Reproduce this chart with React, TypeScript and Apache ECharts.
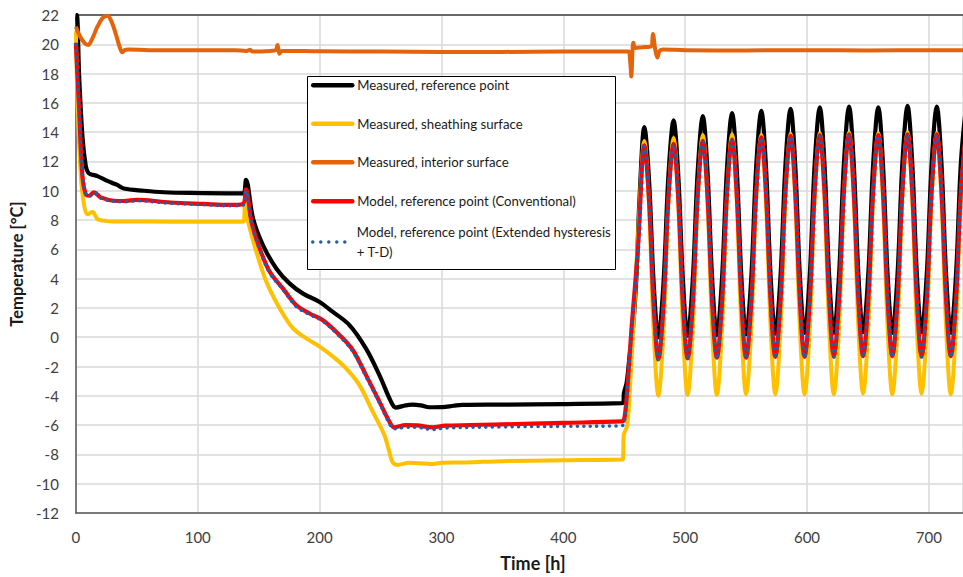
import React, { useEffect, useRef } from "react";
import * as echarts from "echarts";

const seriesNames = [
  "Measured, reference point",
  "Measured, sheathing surface",
  "Measured, interior surface",
  "Model, reference point (Conventional)",
  "Model, reference point (Extended hysteresis + T-D)",
];

const xTickStep = 100;
const yTickStep = 2;
const xRange = [0, 728];
const yRange = [-12, 22];

// ---- data before the daily cycles: [time h, temperature °C]
const blackEarly: [number, number][] = [
  [0, 22.0], [0.8, 22.0], [2.7, 17.8], [5.4, 13.7], [8.1, 11.7], [10, 11.25], [12.2, 11.13],
  [17.7, 11.0], [25.8, 10.68], [31, 10.5], [34, 10.4], [39.5, 10.15], [56, 10.0], [72, 9.9],
  [94, 9.85], [132, 9.82], [137.5, 9.82], [139.6, 10.75], [145.5, 8.07], [153.7, 6.26],
  [164.6, 4.68], [175.5, 3.66], [186.4, 2.98], [200, 2.41], [210.9, 1.73], [224.5, 0.83],
  [238, -0.76], [249, -2.57], [258.5, -4.38], [262.5, -4.8], [270.7, -4.65], [276, -4.6],
  [283, -4.65], [290, -4.78], [300.6, -4.77], [310, -4.68], [317, -4.62], [350, -4.6],
  [400, -4.56], [448, -4.5], [449.3, -4.45], [449.8, -3.8], [452, -3.1], [454.5, -1.2],
  [457, 0.4], [459.8, 3.8], [462.5, 9.4],
];

const yellowEarly: [number, number][] = [
  [0, 20.9], [1.6, 15.5], [4.1, 11.0], [6.8, 9.0], [9.5, 8.4], [13.6, 8.55], [17.7, 8.07],
  [23, 7.96], [30, 7.9], [60, 7.9], [100, 7.88], [137.5, 7.9], [138.8, 9.2], [141.5, 7.85],
  [148.2, 5.81], [156.4, 3.77], [167.3, 1.96], [178.2, 0.6], [189.1, -0.08], [200, -0.64],
  [210.9, -1.32], [221.7, -2.12], [232.6, -3.25], [243.5, -5.06], [253, -6.65], [257.1, -7.78],
  [259.8, -8.52], [263.9, -8.72], [273.5, -8.57], [282, -8.6], [291, -8.66], [300.6, -8.57],
  [320, -8.55], [350, -8.46], [400, -8.4], [448, -8.35], [449, -8.3], [449.6, -6.7],
  [452.5, -6.0], [455, -3.0], [458, 1.5], [462, 8.0],
];

const orangeData: [number, number][] = [
  [0, 21.2], [3, 20.6], [7, 20.1], [10, 19.95], [13, 20.3], [17.7, 21.2], [22, 21.8],
  [25.8, 21.95], [29, 21.6], [32.6, 20.75], [36, 19.8], [38, 19.45], [40, 19.6], [43, 19.65],
  [60, 19.6], [100, 19.6], [130, 19.6], [140, 19.55], [143, 19.62], [145, 19.5], [160, 19.55],
  [164, 19.6], [165.5, 19.95], [167, 19.35], [169, 19.55], [200, 19.52], [250, 19.5],
  [300, 19.48], [350, 19.48], [400, 19.5], [450, 19.5], [453.5, 19.5], [455, 18.7],
  [455.8, 17.8], [456.8, 19.6], [457.5, 20.1], [459, 19.75], [465, 19.8], [472, 19.85],
  [473.5, 20.7], [475.5, 19.6], [477.2, 19.1], [479, 19.55], [482, 19.65], [500, 19.6],
  [550, 19.58], [600, 19.6], [650, 19.58], [700, 19.6], [730, 19.6],
];

const redEarly: [number, number][] = [
  [0, 20.1], [2.7, 15.5], [5.4, 11.0], [8.1, 9.77], [10.9, 9.66], [14.9, 9.89], [20.4, 9.55],
  [31.3, 9.32], [39.4, 9.3], [50, 9.38], [77.5, 9.2], [104.7, 9.1], [126.4, 9.03], [137, 9.1],
  [139.6, 10.1], [144.2, 7.85], [151, 6.03], [159.2, 4.45], [170, 3.32], [180.9, 2.18],
  [191.8, 1.62], [202.7, 1.16], [216.3, 0.15], [227.2, -0.87], [238, -2.57], [249, -4.38],
  [257.1, -5.74], [261.2, -6.15], [270.7, -6.0], [280, -6.02], [292.5, -6.15], [303, -6.04],
  [350, -5.95], [400, -5.85], [447.6, -5.75], [449.5, -5.7], [451, -5.0], [453, -3.0],
  [455.8, 0.4], [461.2, 6.0],
];

const blueEarly: [number, number][] = [
  [0, 20.0], [2.7, 15.4], [5.4, 11.0], [8.1, 9.75], [10.9, 9.62], [14.9, 9.85], [20.4, 9.5],
  [31.3, 9.28], [39.4, 9.25], [50, 9.32], [77.5, 9.15], [104.7, 9.05], [126.4, 8.98], [137, 9.02],
  [139.6, 10.0], [144.2, 7.75], [151, 5.95], [159.2, 4.38], [170, 3.25], [180.9, 2.1],
  [191.8, 1.55], [202.7, 1.1], [216.3, 0.08], [227.2, -0.95], [238, -2.65], [249, -4.45],
  [257.1, -5.85], [261.2, -6.25], [270.7, -6.15], [280, -6.15], [292.5, -6.3], [303, -6.2],
  [350, -6.12], [400, -6.08], [447.6, -6.05], [449.5, -5.95], [451, -5.1], [453, -3.1],
  [455.8, 0.3], [461.2, 5.9],
];

// ---- daily cycles (shared time stamps)
const oscTime = [
  466.5, 470.3, 474.2, 478, 482.2, 486.3,
  490.5, 494.3, 498.2, 502, 506.2, 510.3,
  514.5, 518.3, 522.2, 526, 530.2, 534.3,
  538.5, 542.3, 546.2, 550, 554.2, 558.3,
  562.5, 566.3, 570.2, 574, 578.2, 582.3,
  586.5, 590.3, 594.2, 598, 602.2, 606.3,
  610.5, 614.3, 618.2, 622, 626.2, 630.3,
  634.5, 638.3, 642.2, 646, 650.2, 654.3,
  658.5, 662.3, 666.2, 670, 674.2, 678.3,
  682.5, 686.3, 690.2, 694, 698.2, 702.3,
  706.5, 710.3, 714.2, 718, 722.2, 726.3,
  730.5,
];

const blackOsc = [
  14.35, 10.8, 3.6, 0.0, 3.7, 11.1,
  14.8, 11.1, 3.8, 0.1, 3.85, 11.35,
  15.1, 11.35, 3.9, 0.15, 3.95, 11.5,
  15.3, 11.55, 4.0, 0.2, 4.0, 11.65,
  15.45, 11.65, 4.05, 0.25, 4.1, 11.75,
  15.6, 11.8, 4.1, 0.3, 4.15, 11.85,
  15.7, 11.85, 4.15, 0.3, 4.15, 11.9,
  15.75, 11.9, 4.2, 0.35, 4.2, 11.85,
  15.7, 11.85, 4.15, 0.3, 4.2, 11.95,
  15.8, 11.95, 4.2, 0.35, 4.2, 11.9,
  15.75, 11.9, 4.15, 0.3, 4.2, 11.95,
  15.8,
];

const yellowOsc = [
  13.4, 9.05, 0.35, -4.0, 0.4, 9.2,
  13.6, 9.2, 0.45, -3.95, 0.5, 9.35,
  13.8, 9.35, 0.5, -3.95, 0.5, 9.4,
  13.85, 9.4, 0.55, -3.9, 0.55, 9.4,
  13.8, 9.4, 0.55, -3.9, 0.55, 9.45,
  13.9, 9.45, 0.55, -3.9, 0.55, 9.5,
  13.95, 9.5, 0.55, -3.9, 0.6, 9.55,
  14.0, 9.55, 0.6, -3.85, 0.6, 9.5,
  13.95, 9.5, 0.55, -3.9, 0.6, 9.55,
  14.0, 9.55, 0.6, -3.85, 0.6, 9.5,
  13.95, 9.5, 0.55, -3.9, 0.6, 9.55,
  14.0,
];

const redOsc = [
  13.1, 9.45, 2.15, -1.5, 2.2, 9.55,
  13.2, 9.55, 2.2, -1.45, 2.25, 9.7,
  13.4, 9.7, 2.3, -1.4, 2.35, 9.8,
  13.5, 9.8, 2.35, -1.4, 2.35, 9.9,
  13.65, 9.9, 2.4, -1.35, 2.45, 10.0,
  13.75, 10.0, 2.45, -1.35, 2.45, 10.0,
  13.8, 10.05, 2.5, -1.3, 2.5, 10.05,
  13.85, 10.05, 2.5, -1.3, 2.5, 10.05,
  13.8, 10.05, 2.5, -1.3, 2.5, 10.05,
  13.85, 10.05, 2.5, -1.3, 2.5, 10.05,
  13.85, 10.05, 2.5, -1.3, 2.5, 10.05,
  13.85,
];

const blueOsc = [
  13.05, 9.4, 2.1, -1.55, 2.15, 9.5,
  13.15, 9.5, 2.15, -1.5, 2.2, 9.65,
  13.35, 9.65, 2.25, -1.45, 2.3, 9.75,
  13.45, 9.75, 2.3, -1.45, 2.3, 9.85,
  13.6, 9.85, 2.35, -1.4, 2.4, 9.95,
  13.7, 9.95, 2.4, -1.4, 2.4, 9.95,
  13.75, 10.0, 2.45, -1.35, 2.45, 10.0,
  13.8, 10.0, 2.45, -1.35, 2.45, 10.0,
  13.75, 10.0, 2.45, -1.35, 2.45, 10.0,
  13.8, 10.0, 2.45, -1.35, 2.45, 10.0,
  13.8, 10.0, 2.45, -1.35, 2.45, 10.0,
  13.8,
];

const withCycles = (early: [number, number][], osc: number[]) =>
  early.concat(oscTime.map((t, i) => [t, osc[i]] as [number, number]));

const FONT = "Lato";

export default function App() {
  const ref = useRef<HTMLDivElement>(null);

  useEffect(() => {
    if (!ref.current) return;
    document.documentElement.style.overflow = "hidden";
    document.body.style.overflow = "hidden";
    document.body.style.margin = "0";
    const chart = echarts.init(ref.current, undefined, { renderer: "svg", width: 963, height: 577 });

    const colors = ["#000000", "#FFC000", "#E5640B", "#FF0000", "#1F5FAA"];
    const datas = [
      withCycles(blackEarly, blackOsc),
      withCycles(yellowEarly, yellowOsc),
      orangeData,
      withCycles(redEarly, redOsc),
      withCycles(blueEarly, blueOsc),
    ];
    const widths = [4.2, 4, 4, 4.2, 3.6];

    const series = seriesNames.map((name, i) => ({
      name,
      type: "line",
      data: datas[i],
      showSymbol: false,
      symbol: "none",
      smooth: 0.35,
      clip: true,
      z: 2 + i,
      color: colors[i],
      lineStyle: {
        color: colors[i],
        width: widths[i],
        type: i === 4 ? [0.01, 6.5] : "solid",
        cap: i === 4 ? "round" : "butt",
        join: "round",
      },
    }));

    const legendCenters = [87, 125.5, 164, 203, 242];
    const legends = seriesNames.map((name, i) => {
      const last = i === 4;
      return {
        data: [name],
        orient: "vertical",
        left: 311,
        top: last ? legendCenters[i] - 30 : legendCenters[i] - 9,
        itemWidth: 39,
        itemHeight: 18,
        padding: 0,
        itemGap: 0,
        itemStyle: { opacity: 0 },
        lineStyle: {
          width: last ? 3.5 : 4.5,
          color: colors[i],
          type: last ? [0.01, 8] : "solid",
          cap: "round",
        },
        formatter: last ? () => "Model, reference point (Extended hysteresis\n+ T-D)" : undefined,
        textStyle: {
          fontFamily: FONT,
          fontSize: 13.2,
          color: "#1a1a1a",
          ...(last ? { lineHeight: 20, padding: [20, 0, 0, 0] } : {}),
        },
      };
    });

    chart.setOption({
      animation: false,
      backgroundColor: "#ffffff",
      grid: { left: 72, width: 891, top: 15, bottom: 62, containLabel: false },
      legend: legends,
      graphic: [
        {
          type: "rect",
          z: 3,
          shape: { x: 307.5, y: 76.5, width: 308, height: 193 },
          style: { fill: "#ffffff", stroke: "#000000", lineWidth: 1 },
        },
      ],
      xAxis: [
        {
          type: "value",
          min: xRange[0],
          max: xRange[1],
          interval: xTickStep,
          name: "Time [h]",
          nameLocation: "middle",
          nameGap: 41,
          nameTextStyle: {
            fontFamily: FONT,
            fontSize: 18,
            fontWeight: "bold",
            color: "#1a1a1a",
            padding: [0, 0, 0, 27],
          },
          axisLine: { show: true, onZero: false, lineStyle: { color: "#595959", width: 1.5 } },
          axisTick: { show: false },
          axisLabel: { fontFamily: FONT, fontSize: 15, color: "#404040", margin: 16, showMaxLabel: false },
          splitLine: { show: true, lineStyle: { color: "#D9D9D9", width: 1.5 } },
        },
        {
          type: "value",
          position: "top",
          min: xRange[0],
          max: xRange[1],
          interval: xTickStep,
          axisLine: { show: true, onZero: false, lineStyle: { color: "#404040", width: 1.5 } },
          axisTick: { show: false },
          axisLabel: { show: false },
          splitLine: { show: false },
        },
      ],
      yAxis: {
        type: "value",
        min: yRange[0],
        max: yRange[1],
        interval: yTickStep,
        name: "Temperature [°C]",
        nameLocation: "middle",
        nameGap: 40,
        nameTextStyle: { fontFamily: FONT, fontSize: 16.5, fontWeight: "bold", color: "#1a1a1a" },
        axisLine: { show: true, onZero: false, lineStyle: { color: "#595959", width: 1.5 } },
        axisTick: { show: false },
        axisLabel: { fontFamily: FONT, fontSize: 15, color: "#404040", margin: 17 },
        splitLine: { show: true, lineStyle: { color: "#D9D9D9", width: 1.5 } },
      },
      series,
    });

    return () => chart.dispose();
  }, []);

  return (
    <div
      ref={ref}
      style={{ position: "fixed", left: 0, top: 0, width: 963, height: 577, background: "#fff" }}
    />
  );
}
